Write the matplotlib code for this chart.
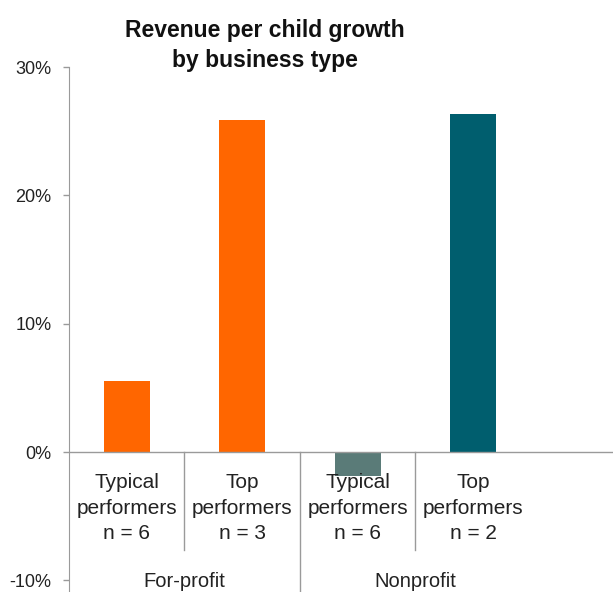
import matplotlib.pyplot as plt
from matplotlib.ticker import PercentFormatter

plt.rcParams['font.family'] = ['Liberation Sans', 'DejaVu Sans']
plt.rcParams['axes.unicode_minus'] = False

categories = ['Typical\nperformers\nn = 6', 'Top\nperformers\nn = 3',
              'Typical\nperformers\nn = 6', 'Top\nperformers\nn = 2']
groups = ['For-profit', 'Nonprofit']
growth = [5.5, 25.9, -1.9, 26.3]
colors = ['#FF6600', '#FF6600', '#5A7B78', '#005E6E']
y_ticks = [-10, 0, 10, 20, 30]

GRAY = '#9A9A9A'
TEXT = '#222222'

fig = plt.figure(figsize=(6.13, 5.92), dpi=100)
# axes spans from the y axis line (x=69px) to the right edge, 30% at y=67px
ax = fig.add_axes([69 / 613, 0, 544 / 613, 525 / 592])

x = list(range(len(growth)))
ax.bar(x, growth, width=0.4, color=colors, zorder=2)
ax.axhline(0, color=GRAY, lw=1, zorder=3)

ax.set_xlim(-0.5, 4.21)
ax.set_ylim(-10.9, 30)
ax.set_yticks(y_ticks)
ax.yaxis.set_major_formatter(PercentFormatter(decimals=0))
ax.tick_params(axis='y', direction='out', length=4.5, width=1, color=GRAY,
               labelsize=13, labelcolor=TEXT, pad=8)
ax.set_xticks([])
for side in ['top', 'right', 'bottom']:
    ax.spines[side].set_visible(False)
ax.spines['left'].set_color(GRAY)

trans = ax.get_xaxis_transform()
for xi, label in zip(x, categories):
    ax.text(xi, 0.226, label, transform=trans, ha='center', va='top',
            fontsize=15, color=TEXT, linespacing=1.42, zorder=4)

# separators between categories / groups
for xs, y0 in [(0.5, 0.08), (1.5, 0.0), (2.5, 0.08)]:
    ax.plot([xs, xs], [y0, (592 - 452) / 525], transform=trans,
            color=GRAY, lw=1, clip_on=False)

for gx, g in zip([0.5, 2.5], groups):
    ax.text(gx, 0.038, g, transform=trans, ha='center', va='top',
            fontsize=14.5, color=TEXT)

fig.text(265 / 613, 1 - 19 / 592, 'Revenue per child growth\nby business type',
         ha='center', va='top', fontsize=16.5, fontweight='bold', color='#111111',
         linespacing=1.4)

fig.savefig('out.png', dpi=100)
